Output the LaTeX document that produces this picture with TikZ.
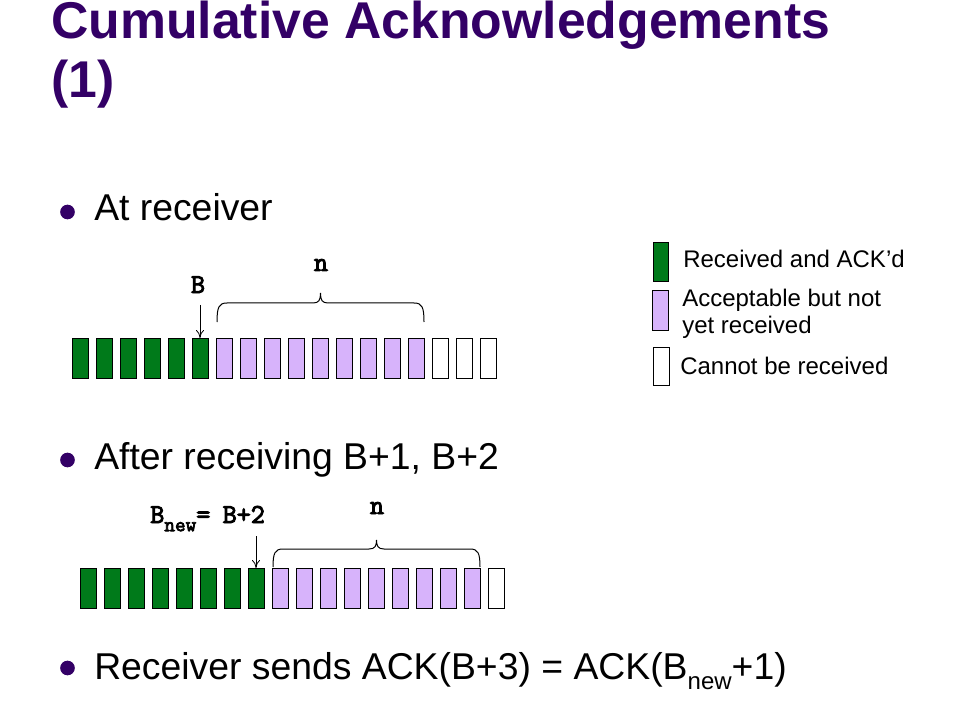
\documentclass[tikz,border=0pt]{standalone}
\usepackage{fontspec}
\setmainfont{Liberation Sans}
\newfontfamily\monofam[AutoFakeBold=3.5]{Latin Modern Mono}
\usetikzlibrary{arrows.meta}
\definecolor{titlepurple}{HTML}{330066}
\definecolor{boxgreen}{HTML}{007A1A}
\definecolor{boxlilac}{HTML}{D7B3FB}
\tikzset{
  slot/.style={draw=black, line width=0.75pt, minimum width=12pt, minimum height=30pt, inner sep=0pt, outer sep=0pt},
  gslot/.style={slot, fill=boxgreen},
  pslot/.style={slot, fill=boxlilac},
  wslot/.style={slot, fill=white},
  ptr/.style={line width=0.6pt, -{To[length=6pt,width=6pt]}},
  brc/.style={line width=0.75pt},
  monolbl/.style={font=\monofam\bfseries\fontsize{20.5}{22}\selectfont, inner sep=0pt, anchor=base},
  bullettext/.style={font=\fontsize{28}{32}\selectfont, inner sep=0pt, anchor=base west},
  legtext/.style={font=\fontsize{18}{21}\selectfont, inner sep=0pt, anchor=base west},
  dot/.style={fill=titlepurple, draw=none, circle, minimum size=11pt, inner sep=0pt},
}
\begin{document}
\begin{tikzpicture}[x=0.75pt, y=-0.75pt]
\useasboundingbox (0,0) rectangle (960,720);
% title
\node[font=\bfseries\fontsize{38.8}{46}\selectfont, text=titlepurple, inner sep=0pt, anchor=base west] (title1) at (51,39) {Cumulative Acknowledgements};
\node[font=\bfseries\fontsize{38.8}{46}\selectfont, text=titlepurple, inner sep=0pt, anchor=base west] (title2) at (51,98) {(1)};
% bullets
\node[dot] (d1) at (67.5,212) {};
\node[bullettext] (l1) at (94,221) {At receiver};
\node[dot] (d2) at (67.5,460) {};
\node[bullettext] (l2) at (94,469) {After receiving B+1, B+2};
\node[dot] (d3) at (67.5,668) {};
\node[bullettext] (l3) at (94,679) {Receiver sends ACK(B+3) = ACK(B\raisebox{-0.28em}{\fontsize{18}{20}\selectfont new}+1)};
% top row
\foreach \i in {1,...,18} {
  \pgfmathtruncatemacro{\cx}{80+(\i-1)*24}
  \ifnum\i<7 \def\sty{gslot}\else\ifnum\i<16 \def\sty{pslot}\else\def\sty{wslot}\fi\fi
  \node[\sty] (t\i) at (\cx,358) {};
}
% bottom row
\foreach \i in {1,...,18} {
  \pgfmathtruncatemacro{\cx}{88+(\i-1)*24}
  \ifnum\i<9 \def\sty{gslot}\else\ifnum\i<18 \def\sty{pslot}\else\def\sty{wslot}\fi\fi
  \node[\sty] (b\i) at (\cx,588) {};
}
% top labels
\node[monolbl] (lB) at (198,293) {B};
\node[monolbl] (ln1) at (321,271) {n};
\coordinate (Bstart) at (200,305);
\draw[ptr] (Bstart) -- (t6.north);
% top brace
\coordinate (tb1) at (217,322);
\coordinate (tb2) at (424,322);
\coordinate (tbm) at (320.5,293);
\draw[brc] (tb1) .. controls (217,307) and (219,303) .. (227,303) -- (313,303)
  .. controls (319,303) and (320.5,300) .. (tbm)
  .. controls (320.5,300) and (322,303) .. (328,303) -- (414,303)
  .. controls (422,303) and (424,307) .. (tb2);
% bottom labels
\node[monolbl, anchor=base west] (lBn) at (150,523) {B\raisebox{-0.3em}{\fontsize{15.5}{16}\selectfont new}=\hspace{0.45em}B+2};
\node[monolbl] (ln2) at (377,514) {n};
\coordinate (Bnstart) at (256,536);
\draw[ptr] (Bnstart) -- (b8.north);
% bottom brace
\coordinate (bb1) at (273,567);
\coordinate (bb2) at (480,567);
\coordinate (bbm) at (376.5,540);
\draw[brc] (bb1) .. controls (273,553) and (275,549) .. (283,549) -- (369,549)
  .. controls (375,549) and (376.5,546) .. (bbm)
  .. controls (376.5,546) and (378,549) .. (384,549) -- (470,549)
  .. controls (478,549) and (480,553) .. (bb2);
% legend
\node[gslot, minimum width=11.25pt, minimum height=29.25pt] (lg1) at (660.5,262.5) {};
\node[legtext] (lt1) at (683,268) {Received and ACK’d};
\node[pslot, minimum height=29.25pt] (lg2) at (660.5,310.5) {};
\node[legtext] (lt2) at (682,306) {Acceptable but not};
\node[legtext] (lt3) at (682,334) {yet received};
\node[wslot, minimum height=28.5pt] (lg3) at (661,366) {};
\node[legtext] (lt4) at (680,374) {Cannot be received};
\end{tikzpicture}
\end{document}
